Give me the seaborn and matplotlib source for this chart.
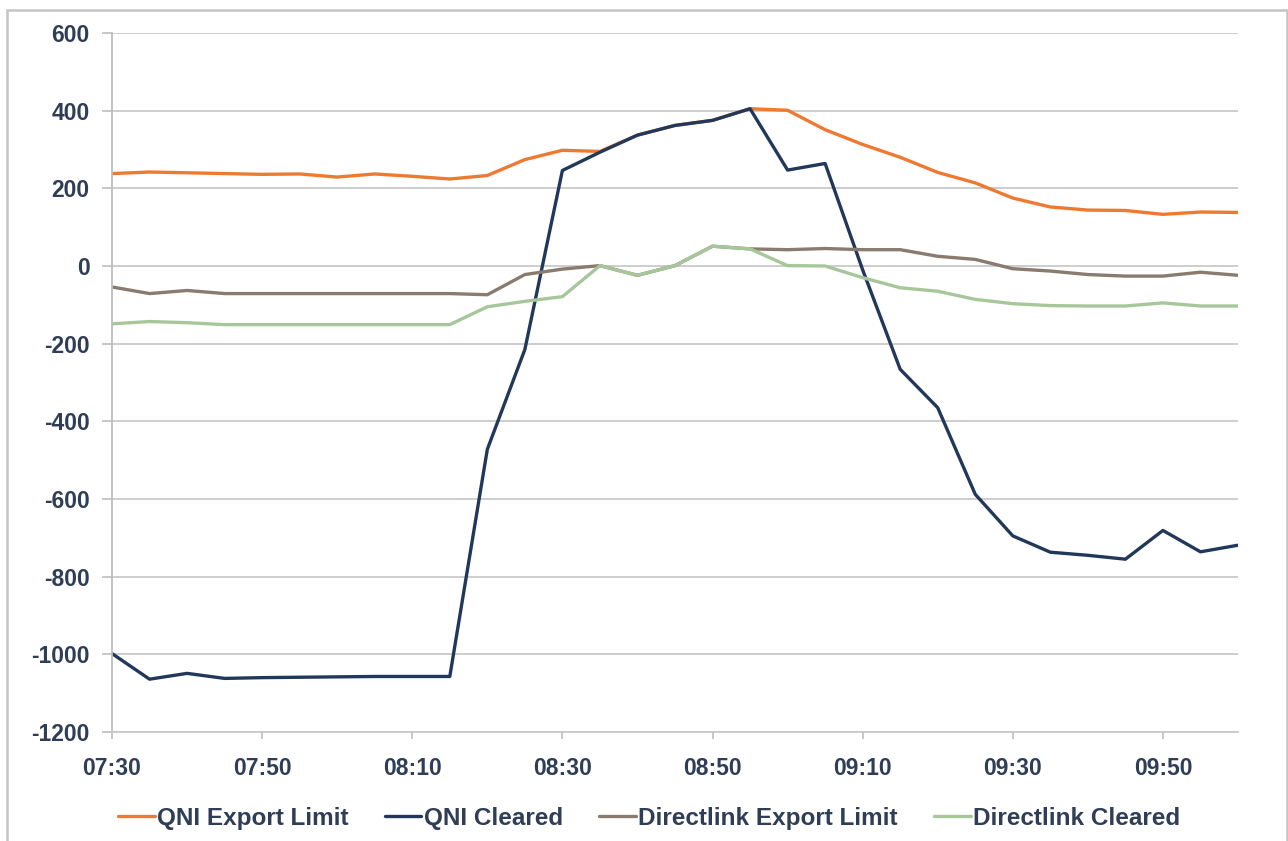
import matplotlib
matplotlib.use("Agg")
import matplotlib.pyplot as plt
from matplotlib.patches import Rectangle
import seaborn as sns
import pandas as pd
import numpy as np

# Five-minute dispatch intervals, 07:30 to 10:00
times = pd.date_range("2024-01-01 07:30", "2024-01-01 10:00", freq="5min")
time_labels = [t.strftime("%H:%M") for t in times]

qni_export_limit = [238, 242, 240, 238, 236, 237, 229, 237, 231, 224, 233, 274,
                    298, 295, 337, 362, 375, 405, 401, 351, 313, 280, 241, 214,
                    175, 152, 144, 143, 133, 139, 138]
qni_cleared = [-998, -1064, -1049, -1062, -1060, -1059, -1058, -1057, -1057, -1057,
               -472, -215, 246, 293, 337, 362, 375, 405, 247, 264, -10, -266,
               -365, -588, -695, -737, -745, -755, -681, -736, -719]
directlink_export_limit = [-54, -71, -63, -71, -71, -71, -71, -71, -71, -71, -74,
                           -22, -8, 1, -24, 1, 51, 44, 42, 45, 42, 42, 25, 17,
                           -7, -13, -22, -26, -26, -16, -24]
directlink_cleared = [-149, -143, -146, -151, -151, -151, -151, -151, -151, -151,
                      -105, -91, -79, 1, -24, 1, 51, 44, 1, 0, -30, -56, -65,
                      -86, -97, -102, -103, -103, -95, -103, -103]

series_names = ["QNI Export Limit", "QNI Cleared",
                "Directlink Export Limit", "Directlink Cleared"]
series_values = [qni_export_limit, qni_cleared,
                 directlink_export_limit, directlink_cleared]
colors = ["#EE7A32", "#22385A", "#8A7B70", "#A7C79B"]

minutes = [(t - times[0]).total_seconds() / 60 for t in times]
df = pd.concat(
    [pd.DataFrame({"minute": minutes, "value": vals, "series": name})
     for name, vals in zip(series_names, series_values)],
    ignore_index=True,
)

sns.set_theme(style="white")
plt.rcParams["font.family"] = ["Liberation Sans", "DejaVu Sans"]
plt.rcParams["axes.unicode_minus"] = False
text_color = "#2F3E56"
font_size = 16.5

fig = plt.figure(figsize=(12.88, 8.41), dpi=100)
ax = fig.add_axes([112 / 1288, 1 - 732 / 841, (1238 - 112) / 1288, (732 - 33) / 841])

sns.lineplot(data=df, x="minute", y="value", hue="series", hue_order=series_names,
             palette=colors, linewidth=2.4, ax=ax, legend=False)

ax.set_xlim(0, 150)
ax.set_ylim(-1200, 600)
ax.set_yticks(np.arange(-1200, 601, 200))
ax.set_xticks(minutes[::4])
ax.set_xticklabels(time_labels[::4])
ax.set_xlabel("")
ax.set_ylabel("")

ax.grid(axis="y", color="#C9C9C9", linewidth=1.3)
ax.set_axisbelow(True)
for side in ["top", "right"]:
    ax.spines[side].set_visible(False)
ax.spines["left"].set_color("#BDBDBD")
ax.spines["left"].set_linewidth(1.3)
ax.spines["bottom"].set_color("#C9C9C9")
ax.spines["bottom"].set_linewidth(1.3)

ax.tick_params(axis="y", which="major", left=True, length=7, width=1.2,
               color="#BDBDBD", pad=9, labelsize=font_size, labelcolor=text_color)
ax.tick_params(axis="x", which="major", bottom=True, length=5, width=1.2,
               color="#BDBDBD", pad=13, labelsize=font_size, labelcolor=text_color)
for lbl in ax.get_xticklabels() + ax.get_yticklabels():
    lbl.set_fontweight("bold")

handles = [plt.Line2D([], [], color=c, linewidth=2.4) for c in colors]
leg = fig.legend(handles, series_names, loc="center", ncol=4,
                 bbox_to_anchor=(0.504, 0.027), frameon=False,
                 handlelength=1.5, handletextpad=0.1, columnspacing=1.5,
                 prop={"size": font_size + 1, "weight": "bold"})
for t in leg.get_texts():
    t.set_color(text_color)

# Light frame around the whole chart area
fig.patches.append(Rectangle((7 / 1288, -0.02), 1 - 7 / 1288 - 1 / 1288, 0.988 + 0.02,
                             transform=fig.transFigure, fill=False,
                             edgecolor="#C4C4C4", linewidth=1.8))

fig.savefig("out.png", dpi=100)
